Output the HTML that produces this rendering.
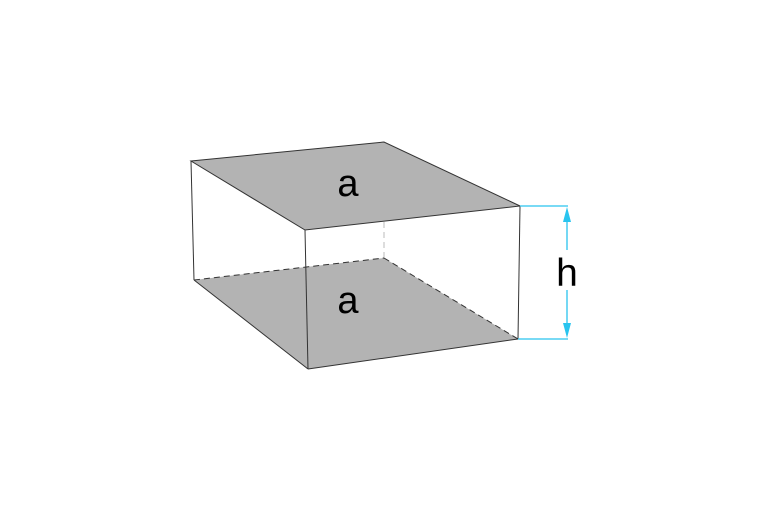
<!DOCTYPE html>
<html><head><style>html,body{margin:0;padding:0;background:#fff;}svg{display:block}</style></head>
<body>
<svg width="768" height="512" viewBox="0 0 768 512" xmlns="http://www.w3.org/2000/svg">
<rect width="768" height="512" fill="#fff"/>
<polygon points="194,280 384,258 518,339 308,369" fill="#b3b3b3"/>
<line x1="384" y1="142" x2="384" y2="258" stroke="#bbb" stroke-width="1" stroke-dasharray="6,4"/>
<polygon points="191,161 384,142 520,206 305,230" fill="#b3b3b3" stroke="#333" stroke-width="1"/>
<line x1="194" y1="280" x2="384" y2="258" stroke="#333" stroke-width="1" stroke-dasharray="6,4"/>
<line x1="384" y1="258" x2="518" y2="339" stroke="#333" stroke-width="1" stroke-dasharray="6,4"/>
<line x1="191" y1="161" x2="194" y2="280" stroke="#333" stroke-width="1"/>
<line x1="305" y1="230" x2="308" y2="369" stroke="#333" stroke-width="1"/>
<line x1="520" y1="206" x2="518" y2="339" stroke="#333" stroke-width="1"/>
<line x1="194" y1="280" x2="308" y2="369" stroke="#333" stroke-width="1"/>
<line x1="308" y1="369" x2="518" y2="339" stroke="#333" stroke-width="1"/>
<g stroke="#29c4ef" stroke-width="1.3" fill="none">
<line x1="520" y1="206" x2="568" y2="206"/>
<line x1="518" y1="339" x2="568" y2="339"/>
<line x1="567" y1="212" x2="567" y2="250"/>
<line x1="567" y1="290" x2="567" y2="333"/>
</g>
<polygon points="567,207 563,222 571,222" fill="#29c4ef"/>
<polygon points="567,338 563,323 571,323" fill="#29c4ef"/>
<g font-family="Liberation Sans, sans-serif" fill="#000" text-anchor="middle">
<text x="567" y="286" font-size="39">h</text>
<text x="348" y="196" font-size="38">a</text>
<text x="348" y="313" font-size="38">a</text>
</g>
</svg>
</body></html>
